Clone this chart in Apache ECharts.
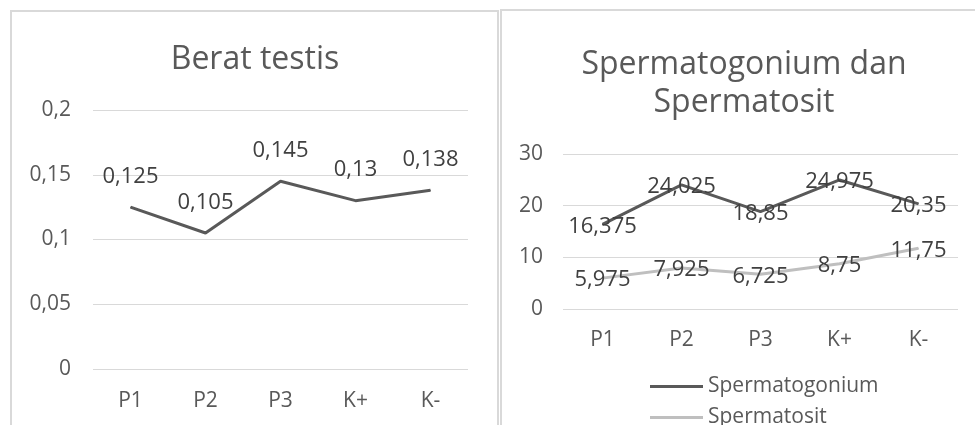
<!DOCTYPE html>
<html>
<head>
<meta charset="utf-8">
<script src="https://cdn.jsdelivr.net/npm/echarts@6/dist/echarts.min.js"></script>
<style>
html,body{margin:0;padding:0;background:#fff;}
#chart{width:975px;height:425px;}
</style>
</head>
<body>
<div id="chart"></div>
<script>
const categories = ['P1', 'P2', 'P3', 'K+', 'K-'];
const beratTestis = [0.125, 0.105, 0.145, 0.13, 0.138];
const spermatogonium = [16.375, 24.025, 18.85, 24.975, 20.35];
const spermatosit = [5.975, 7.925, 6.725, 8.75, 11.75];
const yTicksLeft = [0, 0.05, 0.1, 0.15, 0.2];
const yTicksRight = [0, 10, 20, 30];
const titleLeft = 'Berat testis';
const titleRight = 'Spermatogonium dan\nSpermatosit';
const seriesNames = ['Spermatogonium', 'Spermatosit'];

const FONT = '"Open Sans", "Noto Sans", sans-serif';
const comma = v => String(v).replace('.', ',');
const AX = 21, DL = 22;

const legendText = {fontFamily: FONT, fontSize: 21, color: '#595959'};

const chart = echarts.init(document.getElementById('chart'), null, {renderer: 'canvas'});
chart.setOption({
  animation: false,
  backgroundColor: '#ffffff',
  textStyle: {fontFamily: FONT},
  graphic: [
    {type: 'rect', shape: {x: 11, y: 11, width: 487, height: 600}, style: {fill: 'none', stroke: '#d9d9d9', lineWidth: 2}, silent: true},
    {type: 'rect', shape: {x: 501, y: 10, width: 600, height: 600}, style: {fill: 'none', stroke: '#d9d9d9', lineWidth: 2}, silent: true}
  ],
  title: [
    {text: titleLeft, left: 250, top: 39, textAlign: 'center',
     textStyle: {fontFamily: FONT, fontSize: 32, fontWeight: 'normal', color: '#595959', lineHeight: 32}},
    {text: titleRight, left: 739, top: 41, textAlign: 'center',
     textStyle: {fontFamily: FONT, fontSize: 32, fontWeight: 'normal', color: '#595959', lineHeight: 38}}
  ],
  legend: [
    {left: 645, top: 371, itemWidth: 53, itemHeight: 3, icon: 'rect',
     data: [seriesNames[0]], textStyle: legendText, selectedMode: false},
    {left: 645, top: 402, itemWidth: 53, itemHeight: 3, icon: 'rect',
     data: [seriesNames[1]], textStyle: legendText, selectedMode: false}
  ],
  grid: [
    {left: 93, right: 507, top: 110, bottom: 56},
    {left: 563, right: 17, top: 154, bottom: 116}
  ],
  xAxis: [
    {type: 'category', gridIndex: 0, data: categories, boundaryGap: true,
     axisLine: {show: false}, axisTick: {show: false},
     axisLabel: {margin: 22, fontSize: AX, color: '#595959', fontFamily: FONT}},
    {type: 'category', gridIndex: 1, data: categories, boundaryGap: true,
     axisLine: {show: false}, axisTick: {show: false},
     axisLabel: {margin: 21, fontSize: AX, color: '#595959', fontFamily: FONT}}
  ],
  yAxis: [
    {type: 'value', gridIndex: 0, min: yTicksLeft[0], max: yTicksLeft[yTicksLeft.length - 1], interval: yTicksLeft[1] - yTicksLeft[0],
     axisLine: {show: false}, axisTick: {show: false},
     splitLine: {lineStyle: {color: '#d9d9d9', width: 1}},
     axisLabel: {margin: 22, fontSize: AX, color: '#595959', fontFamily: FONT, formatter: comma}},
    {type: 'value', gridIndex: 1, min: yTicksRight[0], max: yTicksRight[yTicksRight.length - 1], interval: yTicksRight[1] - yTicksRight[0],
     axisLine: {show: false}, axisTick: {show: false},
     splitLine: {lineStyle: {color: '#d9d9d9', width: 1}},
     axisLabel: {margin: 20, fontSize: AX, color: '#595959', fontFamily: FONT, formatter: comma}}
  ],
  series: [
    {name: titleLeft, type: 'line', xAxisIndex: 0, yAxisIndex: 0, data: beratTestis,
     symbol: 'circle', symbolSize: 1,
     lineStyle: {color: '#595959', width: 3}, itemStyle: {color: '#595959'},
     label: {show: true, position: 'top', distance: 19, fontSize: DL, color: '#404040', fontFamily: FONT,
             formatter: p => comma(p.value)}},
    {name: seriesNames[0], type: 'line', xAxisIndex: 1, yAxisIndex: 1, data: spermatogonium,
     symbol: 'circle', symbolSize: 1,
     lineStyle: {color: '#595959', width: 3}, itemStyle: {color: '#595959'},
     label: {show: true, position: 'inside', offset: [0, 2], fontSize: DL, color: '#404040', fontFamily: FONT,
             formatter: p => comma(p.value)}},
    {name: seriesNames[1], type: 'line', xAxisIndex: 1, yAxisIndex: 1, data: spermatosit,
     symbol: 'circle', symbolSize: 1,
     lineStyle: {color: '#bfbfbf', width: 3}, itemStyle: {color: '#bfbfbf'},
     label: {show: true, position: 'inside', offset: [0, 2], fontSize: DL, color: '#404040', fontFamily: FONT,
             formatter: p => comma(p.value)}}
  ]
});
</script>
</body>
</html>
